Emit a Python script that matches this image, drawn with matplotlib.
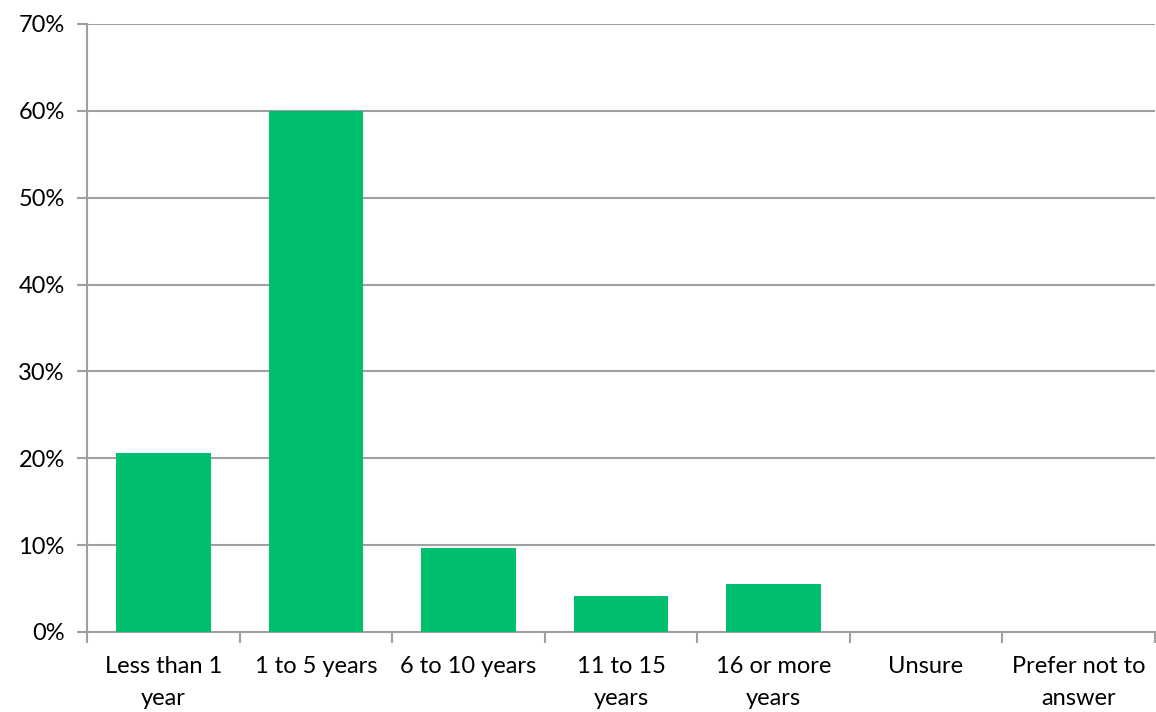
import numpy as np
import matplotlib.pyplot as plt
from matplotlib.ticker import PercentFormatter

categories = ["Less than 1\nyear", "1 to 5 years", "6 to 10 years", "11 to 15\nyears",
              "16 or more\nyears", "Unsure", "Prefer not to\nanswer"]
values = [20.6, 60.0, 9.7, 4.1, 5.5, 0.0, 0.0]

plt.rcParams['font.family'] = ['Lato', 'DejaVu Sans']

fig = plt.figure(figsize=(11.56, 7.12), dpi=100)
ax = fig.add_axes([0.0753, 0.1124, 0.9237, 0.8539])

x = np.arange(len(categories))
ax.bar(x, values, width=0.62, color="#00BF6F", zorder=3)

ax.set_xlim(-0.5, len(categories) - 0.5)
ax.set_ylim(0, 70)
ax.set_yticks(np.arange(0, 71, 10))
ax.yaxis.set_major_formatter(PercentFormatter(decimals=0))
ax.grid(axis="y", color="#A0A0A0", linewidth=1.5, zorder=0)

# category labels centred, ticks between categories
ax.set_xticks(np.arange(-0.5, len(categories), 1))
ax.set_xticklabels([])
ax.set_xticks(x, minor=True)
ax.set_xticklabels(categories, minor=True, fontsize=17, linespacing=1.65)
ax.tick_params(axis="x", which="minor", length=0, pad=17)
ax.tick_params(axis="x", which="major", length=8, width=1.5, color="#A0A0A0")
ax.tick_params(axis="y", length=7, width=1.5, color="#A0A0A0", labelsize=17, pad=9)

for s in ["top", "right"]:
    ax.spines[s].set_visible(False)
for s in ["left", "bottom"]:
    ax.spines[s].set_color("#A0A0A0")
    ax.spines[s].set_linewidth(1.5)

fig.savefig("out.png", dpi=100)
